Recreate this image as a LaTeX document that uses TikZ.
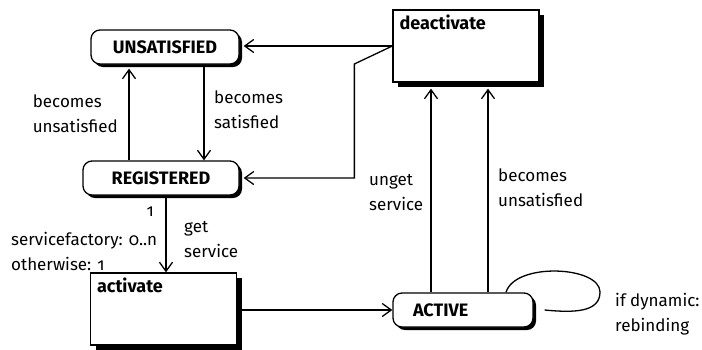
\documentclass[tikz,border=0pt]{standalone}
\usepackage{fontspec}
\setmainfont{Fira Sans}[Numbers=OldStyle]
\usetikzlibrary{arrows.meta,shadows}
\tikzset{
  state/.style={draw,line width=1.3pt,fill=white,rounded corners=9pt,minimum height=34pt,
    font=\fontsize{18}{22}\selectfont\bfseries,
    drop shadow={shadow xshift=3pt,shadow yshift=-3pt,opacity=1,fill=black}},
  actbox/.style={draw,line width=1.3pt,fill=white,minimum width=146pt,minimum height=72pt,
    drop shadow={shadow xshift=5pt,shadow yshift=-5pt,opacity=1,fill=black}},
  boxtitle/.style={anchor=north west,inner xsep=7pt,inner ysep=5pt,font=\fontsize{18}{22}\selectfont\bfseries},
  lbl/.style={align=left,font=\fontsize{17}{25}\selectfont,inner sep=0pt},
  arr/.style={-{Straight Barb[length=9pt,width=13pt]},line width=1.3pt},
  ln/.style={line width=1.3pt}
}
\begin{document}
\begin{tikzpicture}[x=1pt,y=-1pt]
    \useasboundingbox (0,0) rectangle (702,349);
    \node[state,minimum width=148pt] (unsat) at (165,47) {UNSATISFIED};
    \node[state,minimum width=156pt] (reg) at (161,178) {REGISTERED};
    \node[actbox,label={[boxtitle]north west:deactivate}] (deact) at (466,46) {};
    \node[actbox,label={[boxtitle]north west:activate}] (act) at (163.5,309) {};
    \node[state,text width=100pt,inner xsep=20pt,align=left] (active) at (463,310) {ACTIVE};
    \draw[arr] (unsat.south -| 204,0) -- (reg.north -| 204,0);
    \draw[arr,shorten >=4pt] (reg.north -| 129,0) -- (unsat.south -| 129,0);
    \draw[arr,shorten >=4pt] (deact.west) -- (deact.west -| unsat.east);
    \draw[arr,shorten >=4pt] (deact.west) -- ++(-38,18) |- (reg.east);
    \draw[arr] (reg.south -| 166,0) -- (act.north -| 166,0);
    \draw[arr] (act.east |- active.west) -- (active.west);
    \draw[arr,shorten >=6pt] (active.north -| 431,0) -- (deact.south -| 431,0);
    \draw[arr,shorten >=6pt] (active.north -| 488,0) -- (deact.south -| 488,0);
    \draw[ln] (active.north -| 506,0) .. controls (515,262) and (600,266) .. (600,292)
        .. controls (600,312) and (575,313) .. ([xshift=11pt]active.east);
    \node[lbl,anchor=east] (bunsat) at (118,114) {becomes\\unsatisfied};
    \node[lbl,anchor=west] (bsat) at (214,110) {becomes\\satisfied};
    \node[lbl,anchor=east] (one) at (154,212) {1};
    \node[lbl,anchor=west] (mult) at (11,251) {servicefactory: 0..n\\otherwise: 1};
    \node[lbl,anchor=west] (get) at (184,240) {get\\service};
    \node[lbl,anchor=west] (unget) at (369,193) {unget\\service};
    \node[lbl,anchor=west] (bunsatb) at (498,188) {becomes\\unsatisfied};
    \node[lbl,anchor=west] (dyn) at (615,314) {if dynamic:\\rebinding};
\end{tikzpicture}
\end{document}
